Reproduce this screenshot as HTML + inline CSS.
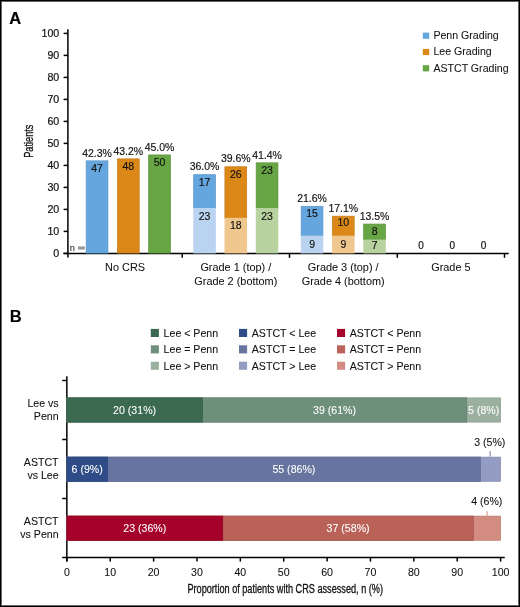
<!DOCTYPE html>
<html><head><meta charset="utf-8"><style>
html,body{margin:0;padding:0;background:#fff;}
body{width:520px;height:607px;overflow:hidden;}
.frame{position:absolute;left:0;top:0;width:520px;height:607px;box-sizing:border-box;border:1px solid #000;box-shadow:inset 0 0 0 1px #666;}
svg{position:absolute;left:0;top:0;font-family:"Liberation Sans", sans-serif;will-change:transform;}
</style></head><body>
<svg width="520" height="607" viewBox="0 0 520 607">
<text x="15.20" y="23.50" font-size="16.5" text-anchor="middle" fill="#000" stroke="#000" stroke-width="0.2" font-weight="bold">A</text>
<line x1="67.90" y1="29.30" x2="67.90" y2="257.60" stroke="#000" stroke-width="1.5"/>
<line x1="63.40" y1="253.40" x2="508.80" y2="253.40" stroke="#000" stroke-width="1.5"/>
<line x1="63.60" y1="253.40" x2="67.90" y2="253.40" stroke="#000" stroke-width="1.5"/>
<text x="59.20" y="257.00" font-size="10.6" text-anchor="end" fill="#111" stroke="#111" stroke-width="0.2" >0</text>
<line x1="63.60" y1="231.40" x2="67.90" y2="231.40" stroke="#000" stroke-width="1.5"/>
<text x="59.20" y="235.00" font-size="10.6" text-anchor="end" fill="#111" stroke="#111" stroke-width="0.2" >10</text>
<line x1="63.60" y1="209.40" x2="67.90" y2="209.40" stroke="#000" stroke-width="1.5"/>
<text x="59.20" y="213.00" font-size="10.6" text-anchor="end" fill="#111" stroke="#111" stroke-width="0.2" >20</text>
<line x1="63.60" y1="187.40" x2="67.90" y2="187.40" stroke="#000" stroke-width="1.5"/>
<text x="59.20" y="191.00" font-size="10.6" text-anchor="end" fill="#111" stroke="#111" stroke-width="0.2" >30</text>
<line x1="63.60" y1="165.40" x2="67.90" y2="165.40" stroke="#000" stroke-width="1.5"/>
<text x="59.20" y="169.00" font-size="10.6" text-anchor="end" fill="#111" stroke="#111" stroke-width="0.2" >40</text>
<line x1="63.60" y1="143.40" x2="67.90" y2="143.40" stroke="#000" stroke-width="1.5"/>
<text x="59.20" y="147.00" font-size="10.6" text-anchor="end" fill="#111" stroke="#111" stroke-width="0.2" >50</text>
<line x1="63.60" y1="121.40" x2="67.90" y2="121.40" stroke="#000" stroke-width="1.5"/>
<text x="59.20" y="125.00" font-size="10.6" text-anchor="end" fill="#111" stroke="#111" stroke-width="0.2" >60</text>
<line x1="63.60" y1="99.40" x2="67.90" y2="99.40" stroke="#000" stroke-width="1.5"/>
<text x="59.20" y="103.00" font-size="10.6" text-anchor="end" fill="#111" stroke="#111" stroke-width="0.2" >70</text>
<line x1="63.60" y1="77.40" x2="67.90" y2="77.40" stroke="#000" stroke-width="1.5"/>
<text x="59.20" y="81.00" font-size="10.6" text-anchor="end" fill="#111" stroke="#111" stroke-width="0.2" >80</text>
<line x1="63.60" y1="55.40" x2="67.90" y2="55.40" stroke="#000" stroke-width="1.5"/>
<text x="59.20" y="59.00" font-size="10.6" text-anchor="end" fill="#111" stroke="#111" stroke-width="0.2" >90</text>
<line x1="63.60" y1="33.40" x2="67.90" y2="33.40" stroke="#000" stroke-width="1.5"/>
<text x="59.20" y="37.00" font-size="10.6" text-anchor="end" fill="#111" stroke="#111" stroke-width="0.2" >100</text>
<line x1="182.20" y1="253.40" x2="182.20" y2="257.80" stroke="#000" stroke-width="1.5"/>
<line x1="289.50" y1="253.40" x2="289.50" y2="257.80" stroke="#000" stroke-width="1.5"/>
<line x1="397.30" y1="253.40" x2="397.30" y2="257.80" stroke="#000" stroke-width="1.5"/>
<line x1="504.50" y1="253.40" x2="504.50" y2="257.80" stroke="#000" stroke-width="1.5"/>
<text transform="translate(33.2,141.2) rotate(-90) scale(0.72,1)" x="0" y="0" font-size="12.8" text-anchor="middle" fill="#111" stroke="#111" stroke-width="0.3">Patients</text>
<text x="69.70" y="250.60" font-size="9.2" text-anchor="start" fill="#444" stroke="#444" stroke-width="0.2" >n</text>
<rect x="78.00" y="246.40" width="6.80" height="3.20" fill="#999"/>
<rect x="86.15" y="160.84" width="21.80" height="92.26" fill="#64a6dd" stroke="#5a95c6" stroke-width="0.7"/>
<text transform="translate(97.05,156.54) scale(1.02,1)" font-size="10.3" text-anchor="middle" fill="#111" stroke="#111" stroke-width="0.15" >42.3%</text>
<text transform="translate(97.05,172.34) scale(1.05,1)" font-size="10.0" text-anchor="middle" fill="#111" stroke="#111" stroke-width="0.15" >47</text>
<rect x="117.40" y="158.87" width="21.80" height="94.23" fill="#dc8819" stroke="#c67a16" stroke-width="0.7"/>
<text transform="translate(128.30,154.57) scale(1.02,1)" font-size="10.3" text-anchor="middle" fill="#111" stroke="#111" stroke-width="0.15" >43.2%</text>
<text transform="translate(128.30,170.37) scale(1.05,1)" font-size="10.0" text-anchor="middle" fill="#111" stroke="#111" stroke-width="0.15" >48</text>
<rect x="148.65" y="154.92" width="21.80" height="98.18" fill="#67a545" stroke="#5c943e" stroke-width="0.7"/>
<text transform="translate(159.55,150.62) scale(1.02,1)" font-size="10.3" text-anchor="middle" fill="#111" stroke="#111" stroke-width="0.15" >45.0%</text>
<text transform="translate(159.55,166.42) scale(1.05,1)" font-size="10.0" text-anchor="middle" fill="#111" stroke="#111" stroke-width="0.15" >50</text>
<rect x="193.65" y="174.67" width="21.80" height="33.79" fill="#64a6dd" stroke="#5a95c6" stroke-width="0.7"/>
<rect x="193.30" y="207.96" width="22.50" height="45.44" fill="#b9d3f0"/>
<text transform="translate(204.55,170.37) scale(1.02,1)" font-size="10.3" text-anchor="middle" fill="#111" stroke="#111" stroke-width="0.15" >36.0%</text>
<text transform="translate(204.55,186.17) scale(1.05,1)" font-size="10.0" text-anchor="middle" fill="#111" stroke="#111" stroke-width="0.15" >17</text>
<text transform="translate(204.55,219.56) scale(1.05,1)" font-size="10.0" text-anchor="middle" fill="#111" stroke="#111" stroke-width="0.15" >23</text>
<rect x="224.90" y="166.77" width="21.80" height="51.57" fill="#dc8819" stroke="#c67a16" stroke-width="0.7"/>
<rect x="224.55" y="217.84" width="22.50" height="35.56" fill="#f0c88f"/>
<text transform="translate(235.80,162.47) scale(1.02,1)" font-size="10.3" text-anchor="middle" fill="#111" stroke="#111" stroke-width="0.15" >39.6%</text>
<text transform="translate(235.80,178.27) scale(1.05,1)" font-size="10.0" text-anchor="middle" fill="#111" stroke="#111" stroke-width="0.15" >26</text>
<text transform="translate(235.80,229.44) scale(1.05,1)" font-size="10.0" text-anchor="middle" fill="#111" stroke="#111" stroke-width="0.15" >18</text>
<rect x="256.15" y="162.82" width="21.80" height="45.64" fill="#67a545" stroke="#5c943e" stroke-width="0.7"/>
<rect x="255.80" y="207.96" width="22.50" height="45.44" fill="#b8d3a0"/>
<text transform="translate(267.05,158.52) scale(1.02,1)" font-size="10.3" text-anchor="middle" fill="#111" stroke="#111" stroke-width="0.15" >41.4%</text>
<text transform="translate(267.05,174.32) scale(1.05,1)" font-size="10.0" text-anchor="middle" fill="#111" stroke="#111" stroke-width="0.15" >23</text>
<text transform="translate(267.05,219.56) scale(1.05,1)" font-size="10.0" text-anchor="middle" fill="#111" stroke="#111" stroke-width="0.15" >23</text>
<rect x="301.15" y="206.28" width="21.80" height="29.84" fill="#64a6dd" stroke="#5a95c6" stroke-width="0.7"/>
<rect x="300.80" y="235.62" width="22.50" height="17.78" fill="#b9d3f0"/>
<text transform="translate(312.05,201.98) scale(1.02,1)" font-size="10.3" text-anchor="middle" fill="#111" stroke="#111" stroke-width="0.15" >21.6%</text>
<text transform="translate(312.05,216.90) scale(1.05,1)" font-size="10.0" text-anchor="middle" fill="#111" stroke="#111" stroke-width="0.15" >15</text>
<text transform="translate(312.05,247.70) scale(1.05,1)" font-size="10.0" text-anchor="middle" fill="#111" stroke="#111" stroke-width="0.15" >9</text>
<rect x="332.40" y="216.16" width="21.80" height="19.96" fill="#dc8819" stroke="#c67a16" stroke-width="0.7"/>
<rect x="332.05" y="235.62" width="22.50" height="17.78" fill="#f0c88f"/>
<text transform="translate(343.30,211.86) scale(1.02,1)" font-size="10.3" text-anchor="middle" fill="#111" stroke="#111" stroke-width="0.15" >17.1%</text>
<text transform="translate(343.30,226.20) scale(1.05,1)" font-size="10.0" text-anchor="middle" fill="#111" stroke="#111" stroke-width="0.15" >10</text>
<text transform="translate(343.30,247.70) scale(1.05,1)" font-size="10.0" text-anchor="middle" fill="#111" stroke="#111" stroke-width="0.15" >9</text>
<rect x="363.65" y="224.06" width="21.80" height="16.01" fill="#67a545" stroke="#5c943e" stroke-width="0.7"/>
<rect x="363.30" y="239.57" width="22.50" height="13.83" fill="#b8d3a0"/>
<text transform="translate(374.55,219.76) scale(1.02,1)" font-size="10.3" text-anchor="middle" fill="#111" stroke="#111" stroke-width="0.15" >13.5%</text>
<text transform="translate(374.55,235.20) scale(1.05,1)" font-size="10.0" text-anchor="middle" fill="#111" stroke="#111" stroke-width="0.15" >8</text>
<text transform="translate(374.55,248.60) scale(1.05,1)" font-size="10.0" text-anchor="middle" fill="#111" stroke="#111" stroke-width="0.15" >7</text>
<text x="421.15" y="248.60" font-size="10.0" text-anchor="middle" fill="#111" stroke="#111" stroke-width="0.2" >0</text>
<text x="452.40" y="248.60" font-size="10.0" text-anchor="middle" fill="#111" stroke="#111" stroke-width="0.2" >0</text>
<text x="483.65" y="248.60" font-size="10.0" text-anchor="middle" fill="#111" stroke="#111" stroke-width="0.2" >0</text>
<text x="125.10" y="271.20" font-size="10.9" text-anchor="middle" fill="#111" stroke="#111" stroke-width="0.05" >No CRS</text>
<text x="235.80" y="271.20" font-size="10.9" text-anchor="middle" fill="#111" stroke="#111" stroke-width="0.05" >Grade 1 (top) /</text>
<text x="235.80" y="284.50" font-size="10.9" text-anchor="middle" fill="#111" stroke="#111" stroke-width="0.05" >Grade 2 (bottom)</text>
<text x="343.20" y="271.20" font-size="10.9" text-anchor="middle" fill="#111" stroke="#111" stroke-width="0.05" >Grade 3 (top) /</text>
<text x="343.20" y="284.50" font-size="10.9" text-anchor="middle" fill="#111" stroke="#111" stroke-width="0.05" >Grade 4 (bottom)</text>
<text x="450.90" y="271.20" font-size="10.9" text-anchor="middle" fill="#111" stroke="#111" stroke-width="0.05" >Grade 5</text>
<rect x="422.80" y="32.60" width="6.40" height="6.20" fill="#64a6dd"/>
<text x="433.40" y="38.90" font-size="10.6" text-anchor="start" fill="#111" stroke="#111" stroke-width="0.05" >Penn Grading</text>
<rect x="422.80" y="48.90" width="6.40" height="6.20" fill="#dc8819"/>
<text x="433.40" y="55.20" font-size="10.6" text-anchor="start" fill="#111" stroke="#111" stroke-width="0.05" >Lee Grading</text>
<rect x="422.80" y="65.20" width="6.40" height="6.20" fill="#67a545"/>
<text x="433.40" y="71.50" font-size="10.6" text-anchor="start" fill="#111" stroke="#111" stroke-width="0.05" >ASTCT Grading</text>
<text x="15.70" y="322.30" font-size="16.5" text-anchor="middle" fill="#000" stroke="#000" stroke-width="0.08" font-weight="bold">B</text>
<line x1="66.85" y1="376.20" x2="66.85" y2="561.60" stroke="#000" stroke-width="1.5"/>
<line x1="62.20" y1="557.50" x2="504.80" y2="557.50" stroke="#000" stroke-width="1.5"/>
<line x1="62.20" y1="380.50" x2="66.85" y2="380.50" stroke="#000" stroke-width="1.5"/>
<line x1="62.20" y1="439.50" x2="66.85" y2="439.50" stroke="#000" stroke-width="1.5"/>
<line x1="62.20" y1="498.50" x2="66.85" y2="498.50" stroke="#000" stroke-width="1.5"/>
<line x1="66.85" y1="557.50" x2="66.85" y2="561.60" stroke="#000" stroke-width="1.5"/>
<text x="66.85" y="575.60" font-size="10.6" text-anchor="middle" fill="#111" stroke="#111" stroke-width="0.08" >0</text>
<line x1="110.22" y1="557.50" x2="110.22" y2="561.60" stroke="#000" stroke-width="1.5"/>
<text x="110.22" y="575.60" font-size="10.6" text-anchor="middle" fill="#111" stroke="#111" stroke-width="0.08" >10</text>
<line x1="153.60" y1="557.50" x2="153.60" y2="561.60" stroke="#000" stroke-width="1.5"/>
<text x="153.60" y="575.60" font-size="10.6" text-anchor="middle" fill="#111" stroke="#111" stroke-width="0.08" >20</text>
<line x1="196.97" y1="557.50" x2="196.97" y2="561.60" stroke="#000" stroke-width="1.5"/>
<text x="196.97" y="575.60" font-size="10.6" text-anchor="middle" fill="#111" stroke="#111" stroke-width="0.08" >30</text>
<line x1="240.35" y1="557.50" x2="240.35" y2="561.60" stroke="#000" stroke-width="1.5"/>
<text x="240.35" y="575.60" font-size="10.6" text-anchor="middle" fill="#111" stroke="#111" stroke-width="0.08" >40</text>
<line x1="283.73" y1="557.50" x2="283.73" y2="561.60" stroke="#000" stroke-width="1.5"/>
<text x="283.73" y="575.60" font-size="10.6" text-anchor="middle" fill="#111" stroke="#111" stroke-width="0.08" >50</text>
<line x1="327.10" y1="557.50" x2="327.10" y2="561.60" stroke="#000" stroke-width="1.5"/>
<text x="327.10" y="575.60" font-size="10.6" text-anchor="middle" fill="#111" stroke="#111" stroke-width="0.08" >60</text>
<line x1="370.48" y1="557.50" x2="370.48" y2="561.60" stroke="#000" stroke-width="1.5"/>
<text x="370.48" y="575.60" font-size="10.6" text-anchor="middle" fill="#111" stroke="#111" stroke-width="0.08" >70</text>
<line x1="413.85" y1="557.50" x2="413.85" y2="561.60" stroke="#000" stroke-width="1.5"/>
<text x="413.85" y="575.60" font-size="10.6" text-anchor="middle" fill="#111" stroke="#111" stroke-width="0.08" >80</text>
<line x1="457.23" y1="557.50" x2="457.23" y2="561.60" stroke="#000" stroke-width="1.5"/>
<text x="457.23" y="575.60" font-size="10.6" text-anchor="middle" fill="#111" stroke="#111" stroke-width="0.08" >90</text>
<line x1="500.60" y1="557.50" x2="500.60" y2="561.60" stroke="#000" stroke-width="1.5"/>
<text x="500.60" y="575.60" font-size="10.6" text-anchor="middle" fill="#111" stroke="#111" stroke-width="0.08" >100</text>
<text transform="translate(285.2,593.3) scale(0.7625,1)" x="0" y="0" font-size="12" text-anchor="middle" fill="#111" stroke="#111" stroke-width="0.3">Proportion of patients with CRS assessed, n (%)</text>
<rect x="150.80" y="328.90" width="8.10" height="8.10" fill="#3b6a51"/>
<text x="163.60" y="336.80" font-size="10.6" text-anchor="start" fill="#111" stroke="#111" stroke-width="0.08" >Lee &lt; Penn</text>
<rect x="150.80" y="345.30" width="8.10" height="8.10" fill="#6e8f7a"/>
<text x="163.60" y="353.20" font-size="10.6" text-anchor="start" fill="#111" stroke="#111" stroke-width="0.08" >Lee = Penn</text>
<rect x="150.80" y="361.70" width="8.10" height="8.10" fill="#9cb09f"/>
<text x="163.60" y="369.60" font-size="10.6" text-anchor="start" fill="#111" stroke="#111" stroke-width="0.08" >Lee &gt; Penn</text>
<rect x="239.00" y="328.90" width="8.10" height="8.10" fill="#2e4d88"/>
<text x="251.80" y="336.80" font-size="10.6" text-anchor="start" fill="#111" stroke="#111" stroke-width="0.08" >ASTCT &lt; Lee</text>
<rect x="239.00" y="345.30" width="8.10" height="8.10" fill="#66749f"/>
<text x="251.80" y="353.20" font-size="10.6" text-anchor="start" fill="#111" stroke="#111" stroke-width="0.08" >ASTCT = Lee</text>
<rect x="239.00" y="361.70" width="8.10" height="8.10" fill="#959cc4"/>
<text x="251.80" y="369.60" font-size="10.6" text-anchor="start" fill="#111" stroke="#111" stroke-width="0.08" >ASTCT &gt; Lee</text>
<rect x="337.00" y="328.90" width="8.10" height="8.10" fill="#a4022a"/>
<text x="349.80" y="336.80" font-size="10.6" text-anchor="start" fill="#111" stroke="#111" stroke-width="0.08" >ASTCT &lt; Penn</text>
<rect x="337.00" y="345.30" width="8.10" height="8.10" fill="#bb6258"/>
<text x="349.80" y="353.20" font-size="10.6" text-anchor="start" fill="#111" stroke="#111" stroke-width="0.08" >ASTCT = Penn</text>
<rect x="337.00" y="361.70" width="8.10" height="8.10" fill="#d38c80"/>
<text x="349.80" y="369.60" font-size="10.6" text-anchor="start" fill="#111" stroke="#111" stroke-width="0.08" >ASTCT &gt; Penn</text>
<rect x="66.85" y="397.90" width="433.75" height="24.20" fill="#9cb09f" stroke="#899a8b" stroke-width="0.7"/>
<rect x="66.85" y="397.90" width="399.86" height="24.20" fill="#6e8f7a" stroke="#607d6b" stroke-width="0.7"/>
<rect x="66.85" y="397.90" width="135.55" height="24.20" fill="#3b6a51" stroke="#335d47" stroke-width="0.7"/>
<text x="134.62" y="413.80" font-size="10.6" text-anchor="middle" fill="#fff" stroke="#fff" stroke-width="0.08" >20 (31%)</text>
<text x="334.56" y="413.80" font-size="10.6" text-anchor="middle" fill="#fff" stroke="#fff" stroke-width="0.08" >39 (61%)</text>
<text x="483.66" y="413.80" font-size="10.6" text-anchor="middle" fill="#fff" stroke="#fff" stroke-width="0.08" >5 (8%)</text>
<text x="58.60" y="407.00" font-size="10.6" text-anchor="end" fill="#111" stroke="#111" stroke-width="0.08" >Lee vs</text>
<text x="58.60" y="420.00" font-size="10.6" text-anchor="end" fill="#111" stroke="#111" stroke-width="0.08" >Penn</text>
<rect x="66.85" y="457.10" width="433.75" height="24.20" fill="#959cc4" stroke="#8389ac" stroke-width="0.7"/>
<rect x="66.85" y="457.10" width="413.42" height="24.20" fill="#66749f" stroke="#59668b" stroke-width="0.7"/>
<rect x="66.85" y="457.10" width="40.66" height="24.20" fill="#2e4d88" stroke="#284377" stroke-width="0.7"/>
<text x="87.18" y="473.00" font-size="10.6" text-anchor="middle" fill="#fff" stroke="#fff" stroke-width="0.08" >6 (9%)</text>
<text x="293.89" y="473.00" font-size="10.6" text-anchor="middle" fill="#fff" stroke="#fff" stroke-width="0.08" >55 (86%)</text>
<text x="58.60" y="466.20" font-size="10.6" text-anchor="end" fill="#111" stroke="#111" stroke-width="0.08" >ASTCT</text>
<text x="58.60" y="479.20" font-size="10.6" text-anchor="end" fill="#111" stroke="#111" stroke-width="0.08" >vs Lee</text>
<rect x="66.85" y="516.10" width="433.75" height="24.20" fill="#d38c80" stroke="#b97b70" stroke-width="0.7"/>
<rect x="66.85" y="516.10" width="406.64" height="24.20" fill="#bb6258" stroke="#a4564d" stroke-width="0.7"/>
<rect x="66.85" y="516.10" width="155.88" height="24.20" fill="#a4022a" stroke="#900124" stroke-width="0.7"/>
<text x="144.79" y="532.00" font-size="10.6" text-anchor="middle" fill="#fff" stroke="#fff" stroke-width="0.08" >23 (36%)</text>
<text x="348.11" y="532.00" font-size="10.6" text-anchor="middle" fill="#fff" stroke="#fff" stroke-width="0.08" >37 (58%)</text>
<text x="58.60" y="525.20" font-size="10.6" text-anchor="end" fill="#111" stroke="#111" stroke-width="0.08" >ASTCT</text>
<text x="58.60" y="538.20" font-size="10.6" text-anchor="end" fill="#111" stroke="#111" stroke-width="0.08" >vs Penn</text>
<rect x="489.60" y="451.20" width="1.00" height="5.30" fill="#6a78a8"/>
<text x="489.80" y="445.70" font-size="10.6" text-anchor="middle" fill="#111" stroke="#111" stroke-width="0.08" >3 (5%)</text>
<rect x="486.60" y="511.20" width="1.00" height="4.60" fill="#d38c80"/>
<text x="486.80" y="504.70" font-size="10.6" text-anchor="middle" fill="#111" stroke="#111" stroke-width="0.08" >4 (6%)</text>
</svg>
<div class="frame"></div>
</body></html>
